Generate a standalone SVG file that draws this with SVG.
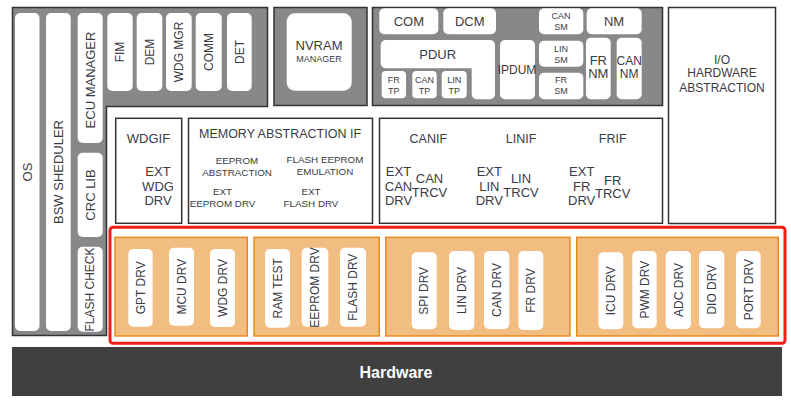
<svg xmlns="http://www.w3.org/2000/svg" width="791" height="408" viewBox="0 0 791 408">
<style>
.g{fill:#888;stroke:#333;stroke-width:1.5}
.w{fill:#fff}
.box{fill:#fff;stroke:#333;stroke-width:1.5}
.o{fill:#F2BD80;stroke:#E3820F;stroke-width:1.3}
text{font-family:"Liberation Sans",Arial,sans-serif;fill:#3a3a44;text-anchor:middle}
.t13{font-size:13px}.t12{font-size:12px}.t10{font-size:9.8px}.t9{font-size:9px}
.hw{font-size:16px;font-weight:bold;fill:#fff}
</style>
<rect x="0" y="0" width="791" height="408" fill="#fff"/>

<g id="services">
<path class="g" d="M12.5,7.5 H267.5 V106.5 H106.5 V335.5 H12.5 Z"/>
<g id="os"><rect class="w" x="15" y="13" width="24.5" height="318" rx="5"/><text class="t13" transform="translate(27.3,172) rotate(-90)" dy="0.35em">OS</text></g>
<g id="bsw"><rect class="w" x="46" y="13" width="24.7" height="318" rx="5"/><text class="t13" transform="translate(58.5,172) rotate(-90)" dy="0.35em">BSW SHEDULER</text></g>
<g id="ecum"><rect class="w" x="77.7" y="13" width="25" height="130" rx="5"/><text class="t13" transform="translate(90.2,80) rotate(-90)" dy="0.35em">ECU MANAGER</text></g>
<g id="crc"><rect class="w" x="77.7" y="152.7" width="25" height="84.3" rx="5"/><text class="t13" transform="translate(90.2,195) rotate(-90)" dy="0.35em">CRC LIB</text></g>
<g id="flashcheck"><rect class="w" x="77.7" y="246.7" width="25" height="85" rx="5"/><text class="t12" transform="translate(90.2,289.5) rotate(-90)" dy="0.35em">FLASH CHECK</text></g>
<g id="fim"><rect class="w" x="107.3" y="13" width="25.4" height="78" rx="5"/><text class="t12" transform="translate(120,52) rotate(-90)" dy="0.35em">FIM</text></g>
<g id="dem"><rect class="w" x="136.7" y="13" width="25.6" height="78" rx="5"/><text class="t12" transform="translate(149.5,52) rotate(-90)" dy="0.35em">DEM</text></g>
<g id="wdgmgr"><rect class="w" x="166" y="13" width="25.7" height="78" rx="5"/><text class="t12" transform="translate(178.8,52) rotate(-90)" dy="0.35em">WDG MGR</text></g>
<g id="comm"><rect class="w" x="195.7" y="13" width="26" height="78" rx="5"/><text class="t12" transform="translate(208.7,52) rotate(-90)" dy="0.35em">COMM</text></g>
<g id="det"><rect class="w" x="227" y="13" width="24.7" height="78" rx="5"/><text class="t12" transform="translate(239.3,52) rotate(-90)" dy="0.35em">DET</text></g>
</g>

<g id="nvram">
<rect class="g" x="274" y="7.5" width="93" height="98"/>
<rect class="w" x="286.7" y="13.3" width="65" height="77.4" rx="8"/>
<text class="t13" x="319" y="50">NVRAM</text>
<text class="t9" x="319" y="62">MANAGER</text>
</g>

<g id="comstack">
<rect class="g" x="372.5" y="7.5" width="290" height="98"/>
<g id="com"><rect class="w" x="379.3" y="8.3" width="59" height="26" rx="5"/><text class="t13" x="408.8" y="25.5">COM</text></g>
<g id="dcm"><rect class="w" x="443.3" y="8.3" width="52.7" height="26" rx="5"/><text class="t13" x="469.7" y="25.5">DCM</text></g>
<g id="pdur"><path class="w" d="M385.7,40 H490 A5,5 0 0 1 495,45 V94.3 A5,5 0 0 1 490,99.3 H476.7 A5,5 0 0 1 471.7,94.3 V68.3 H385.7 A5,5 0 0 1 380.7,63.3 V45 A5,5 0 0 1 385.7,40 Z"/><text class="t13" x="437.7" y="58.5">PDUR</text></g>
<g id="frtp"><rect class="w" x="381.7" y="71" width="24.3" height="27.3" rx="4"/><text class="t9" x="393.8" y="83">FR</text><text class="t9" x="393.8" y="94">TP</text></g>
<g id="cantp"><rect class="w" x="412.3" y="71" width="24.4" height="27.3" rx="4"/><text class="t9" x="424.5" y="83">CAN</text><text class="t9" x="424.5" y="94">TP</text></g>
<g id="lintp"><rect class="w" x="441.7" y="71" width="25" height="27.3" rx="4"/><text class="t9" x="454.2" y="83">LIN</text><text class="t9" x="454.2" y="94">TP</text></g>
<g id="ipdum"><rect class="w" x="500" y="40" width="35" height="59.3" rx="5"/><text class="t12" x="517" y="73.5">IPDUM</text></g>
<g id="cansm"><rect class="w" x="539" y="8.3" width="44.3" height="26" rx="5"/><text class="t9" x="561" y="19">CAN</text><text class="t9" x="561" y="30">SM</text></g>
<g id="nm"><rect class="w" x="586.7" y="8.3" width="55" height="26" rx="5"/><text class="t13" x="614" y="25.5">NM</text></g>
<g id="linsm"><rect class="w" x="539" y="40.7" width="44.3" height="26" rx="5"/><text class="t9" x="561" y="51.5">LIN</text><text class="t9" x="561" y="62.5">SM</text></g>
<g id="frsm"><rect class="w" x="539" y="72.7" width="44.3" height="26.6" rx="5"/><text class="t9" x="561" y="83">FR</text><text class="t9" x="561" y="94">SM</text></g>
<g id="frnm"><rect class="w" x="586" y="37.7" width="24.7" height="61.6" rx="5"/><text class="t13" x="598.3" y="64.5">FR</text><text class="t13" x="598.3" y="78">NM</text></g>
<g id="cannm"><rect class="w" x="616.7" y="37.7" width="25" height="61.6" rx="5"/><text class="t12" x="629.2" y="64.5">CAN</text><text class="t12" x="629.2" y="78">NM</text></g>
</g>

<g id="ioha">
<rect class="box" x="668.5" y="7.5" width="107" height="216"/>
<text class="t12" x="722" y="63.5">I/O</text>
<text class="t12" x="722" y="77">HARDWARE</text>
<text class="t12" x="722" y="91.5">ABSTRACTION</text>
</g>

<g id="wdgif">
<rect class="box" x="115.7" y="118.3" width="66" height="105"/>
<text class="t13" x="148.5" y="142.5">WDGIF</text>
<text class="t13" x="158" y="176">EXT</text>
<text class="t13" x="158" y="190.5">WDG</text>
<text class="t13" x="158" y="204.5">DRV</text>
</g>

<g id="memif">
<rect class="box" x="188.5" y="118.3" width="184" height="105"/>
<text x="280" y="137.5" style="font-size:12.5px">MEMORY ABSTRACTION IF</text>
<text class="t10" x="237" y="163.5">EEPROM</text>
<text class="t10" x="237" y="175.5">ABSTRACTION</text>
<text class="t10" x="325" y="162.5">FLASH EEPROM</text>
<text class="t10" x="325" y="174.5">EMULATION</text>
<text class="t10" x="222.5" y="195">EXT</text>
<text class="t10" x="222.5" y="206.5">EEPROM DRV</text>
<text class="t10" x="311" y="195">EXT</text>
<text class="t10" x="311" y="206.5">FLASH DRV</text>
</g>

<g id="comif">
<rect class="box" x="379.5" y="118.3" width="283" height="105"/>
<text x="428.3" y="142.5" style="font-size:12.5px">CANIF</text>
<text x="521" y="142.5" style="font-size:12.5px">LINIF</text>
<text x="612.7" y="142.5" style="font-size:12.5px">FRIF</text>
<text class="t13" x="398.5" y="176">EXT</text>
<text class="t13" x="398.5" y="190.5">CAN</text>
<text class="t13" x="398.5" y="204.5">DRV</text>
<text class="t13" x="429.5" y="183">CAN</text>
<text class="t13" x="429.5" y="196.5">TRCV</text>
<text class="t13" x="489.3" y="176">EXT</text>
<text class="t13" x="489.3" y="190.5">LIN</text>
<text class="t13" x="489.3" y="204.5">DRV</text>
<text class="t13" x="521" y="183">LIN</text>
<text class="t13" x="521" y="196.5">TRCV</text>
<text class="t13" x="581.7" y="176">EXT</text>
<text class="t13" x="581.7" y="190.5">FR</text>
<text class="t13" x="581.7" y="204.5">DRV</text>
<text class="t13" x="612.7" y="184.5">FR</text>
<text class="t13" x="612.7" y="198">TRCV</text>
</g>

<g id="mcal">
<rect x="110" y="227.3" width="675" height="116" rx="3" fill="#fff" stroke="#F01E14" stroke-width="3"/>
<g id="grp1">
<rect class="o" x="115" y="237.3" width="132.3" height="98.7"/>
<g id="gpt"><rect class="w" x="128.3" y="249" width="24.4" height="77.7" rx="5"/><text class="t12" transform="translate(140.5,287.8) rotate(-90)" dy="0.35em">GPT DRV</text></g>
<g id="mcu"><rect class="w" x="169" y="247.7" width="25" height="78" rx="5"/><text class="t12" transform="translate(181.5,286.7) rotate(-90)" dy="0.35em">MCU DRV</text></g>
<g id="wdg"><rect class="w" x="210" y="249" width="25" height="78" rx="5"/><text class="t12" transform="translate(222.5,288) rotate(-90)" dy="0.35em">WDG DRV</text></g>
</g>
<g id="grp2">
<rect class="o" x="254" y="237.3" width="125.3" height="98.7"/>
<g id="ramtest"><rect class="w" x="265" y="249" width="25" height="78.7" rx="5"/><text class="t12" transform="translate(277.5,288.3) rotate(-90)" dy="0.35em">RAM TEST</text></g>
<g id="eeprom"><rect class="w" x="301.7" y="247.7" width="26.6" height="79" rx="5"/><text class="t12" transform="translate(315,287.5) rotate(-90)" dy="0.35em">EEPROM DRV</text></g>
<g id="flash"><rect class="w" x="340" y="247.7" width="26" height="79" rx="5"/><text class="t12" transform="translate(353,287.2) rotate(-90)" dy="0.35em">FLASH DRV</text></g>
</g>
<g id="grp3">
<rect class="o" x="385.7" y="237.3" width="184.3" height="98.7"/>
<g id="spi"><rect class="w" x="411.7" y="252.3" width="25" height="77" rx="5"/><text class="t12" transform="translate(424.2,290.8) rotate(-90)" dy="0.35em">SPI DRV</text></g>
<g id="lin"><rect class="w" x="449" y="251" width="25.3" height="79" rx="5"/><text class="t12" transform="translate(461.7,290.5) rotate(-90)" dy="0.35em">LIN DRV</text></g>
<g id="can"><rect class="w" x="484" y="251" width="25.3" height="78" rx="5"/><text class="t12" transform="translate(496.7,290) rotate(-90)" dy="0.35em">CAN DRV</text></g>
<g id="fr"><rect class="w" x="518.3" y="251" width="25" height="79" rx="5"/><text class="t12" transform="translate(530.8,290.5) rotate(-90)" dy="0.35em">FR DRV</text></g>
</g>
<g id="grp4">
<rect class="o" x="576.7" y="237.3" width="201.6" height="98.7"/>
<g id="icu"><rect class="w" x="598.3" y="252.3" width="25" height="77" rx="5"/><text class="t12" transform="translate(610.8,290.8) rotate(-90)" dy="0.35em">ICU DRV</text></g>
<g id="pwm"><rect class="w" x="632.3" y="251" width="24.4" height="77.3" rx="5"/><text class="t12" transform="translate(644.5,289.7) rotate(-90)" dy="0.35em">PWM DRV</text></g>
<g id="adc"><rect class="w" x="665.7" y="251" width="25.3" height="78" rx="5"/><text class="t12" transform="translate(678.3,290) rotate(-90)" dy="0.35em">ADC DRV</text></g>
<g id="dio"><rect class="w" x="699" y="251" width="25.3" height="77.3" rx="5"/><text class="t12" transform="translate(711.7,289.7) rotate(-90)" dy="0.35em">DIO DRV</text></g>
<g id="port"><rect class="w" x="736" y="251" width="24.7" height="77.3" rx="5"/><text class="t12" transform="translate(748.3,289.7) rotate(-90)" dy="0.35em">PORT DRV</text></g>
</g>
</g>

<g id="hardware">
<rect x="12" y="347" width="770" height="49" fill="#404040"/>
<text class="hw" x="396" y="377.5">Hardware</text>
</g>
<g id="connectors"></g>
</svg>
